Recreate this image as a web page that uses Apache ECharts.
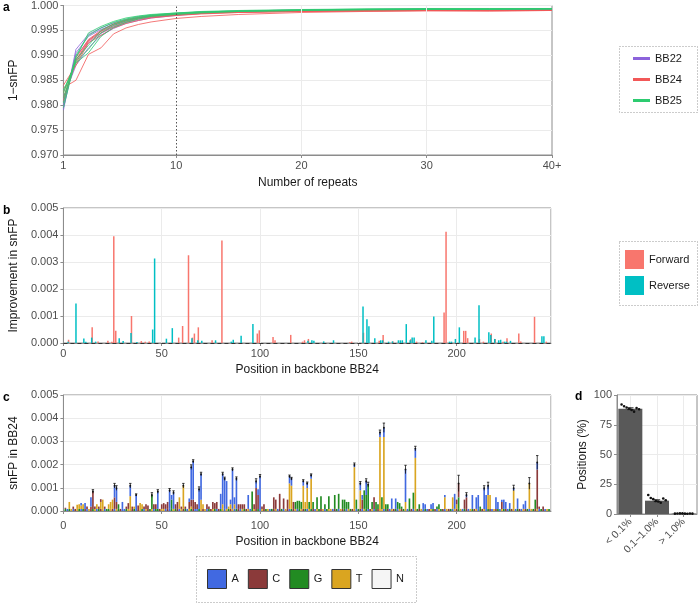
<!DOCTYPE html>
<html><head><meta charset="utf-8">
<script src="https://cdn.jsdelivr.net/npm/echarts@6/dist/echarts.min.js"></script>
<style>html,body{margin:0;padding:0;background:#fff}#main{width:698px;height:603px}</style>
</head><body><div id="main"></div>
<script>
const FONT = '"Liberation Sans", Arial, Helvetica, sans-serif';

// ---------- Panel a: 1-snFP vs number of repeats ----------
const repeatsX = [1,2,3,4,5,6,7,8,10,12,15,20,25,30,35,40];
const repeatTicks = [1,10,20,30,40];
const backbones = ['BB22','BB24','BB25'];
const bb22Runs = [
  [0.9790,0.9912,0.9942,0.9955,0.9965,0.9972,0.9977,0.9980,0.9984,0.9987,0.9989,0.9991,0.9992,0.9993,0.9991,0.9993],
  [0.9795,0.9905,0.9938,0.9952,0.9962,0.9970,0.9975,0.9979,0.9983,0.9986,0.9988,0.9990,0.9991,0.9992,0.9990,0.9992],
  [0.9800,0.9898,0.9930,0.9948,0.9960,0.9968,0.9974,0.9978,0.9982,0.9985,0.9988,0.9990,0.9991,0.9992,0.9991,0.9993],
  [0.9808,0.9890,0.9925,0.9944,0.9957,0.9966,0.9972,0.9976,0.9981,0.9985,0.9987,0.9989,0.9991,0.9992,0.9990,0.9992],
  [0.9815,0.9880,0.9915,0.9940,0.9954,0.9964,0.9970,0.9975,0.9980,0.9984,0.9987,0.9989,0.9990,0.9991,0.9991,0.9992]
];
const bb24Runs = [
  [0.9835,0.9850,0.9902,0.9915,0.9943,0.9955,0.9962,0.9967,0.9974,0.9978,0.9982,0.9986,0.9988,0.9989,0.9989,0.9990],
  [0.9840,0.9880,0.9925,0.9940,0.9955,0.9964,0.9970,0.9975,0.9980,0.9983,0.9986,0.9988,0.9989,0.9990,0.9990,0.9990],
  [0.9825,0.9890,0.9930,0.9948,0.9962,0.9970,0.9975,0.9978,0.9982,0.9985,0.9987,0.9989,0.9990,0.9990,0.9990,0.9991],
  [0.9815,0.9885,0.9928,0.9945,0.9958,0.9967,0.9973,0.9977,0.9981,0.9984,0.9986,0.9988,0.9989,0.9990,0.9989,0.9990],
  [0.9808,0.9895,0.9932,0.9950,0.9963,0.9971,0.9976,0.9979,0.9983,0.9986,0.9988,0.9989,0.9990,0.9991,0.9990,0.9991]
];
const bb25Runs = [
  [0.9795,0.9895,0.9945,0.9958,0.9968,0.9975,0.9979,0.9982,0.9985,0.9988,0.9990,0.9992,0.9993,0.9994,0.9994,0.9994],
  [0.9805,0.9900,0.9940,0.9955,0.9966,0.9973,0.9978,0.9981,0.9985,0.9987,0.9989,0.9991,0.9993,0.9993,0.9993,0.9994],
  [0.9815,0.9892,0.9920,0.9950,0.9963,0.9971,0.9976,0.9980,0.9984,0.9987,0.9989,0.9991,0.9992,0.9993,0.9993,0.9993],
  [0.9825,0.9888,0.9912,0.9945,0.9960,0.9969,0.9975,0.9979,0.9983,0.9986,0.9988,0.9990,0.9992,0.9992,0.9993,0.9993],
  [0.9830,0.9885,0.9905,0.9938,0.9956,0.9966,0.9973,0.9978,0.9982,0.9985,0.9988,0.9990,0.9991,0.9992,0.9992,0.9993]
];

// ---------- Panel b: improvement in snFP, [position, value] ----------
const forwardImprovement = [[3,0.00012],[15,0.00058],[18,0.00006],[23,0.00008],[25,0.00005],[26,0.00395],[27,0.00045],[35,0.001],[40,0.00007],[42,0.00005],[44,0.00006],[59,0.0002],[61,0.00063],[64,0.00325],[66,0.0002],[67,0.00035],[69,0.00058],[76,0.0001],[81,0.0038],[99,0.00035],[100,0.00047],[107,0.00022],[108,0.0001],[116,0.0003],[122,0.00005],[123,0.0001],[125,0.00015],[146,0.00003],[147,0.00005],[153,0.00038],[161,0.00008],[163,0.0003],[168,0.00006],[177,0.00014],[180,0.00005],[183,0.00003],[194,0.00113],[195,0.00412],[204,0.00045],[205,0.00045],[206,0.00018],[212,0.00015],[214,0.00005],[218,0.00035],[220,0.00015],[224,0.00005],[226,0.00018],[232,0.00035],[233,0.00006],[240,0.00097],[246,0.00005]];
const reverseImprovement = [[2,0.00005],[6,0.00146],[10,0.00017],[11,0.00005],[14,0.0002],[16,0.00005],[28,0.00018],[30,0.00007],[34,0.00037],[37,0.00004],[45,0.0005],[46,0.00313],[52,0.00016],[55,0.00055],[65,0.00018],[68,0.0001],[70,0.00008],[77,0.0001],[85,0.00005],[86,0.00012],[90,0.00027],[96,0.0007],[124,0.00008],[126,0.0001],[127,0.00008],[132,0.00006],[137,0.0001],[152,0.00135],[154,0.00088],[155,0.00062],[158,0.00018],[161,0.0001],[162,0.0001],[165,0.00005],[167,0.00006],[170,0.0001],[171,0.0001],[172,0.0001],[174,0.0007],[176,0.0001],[177,0.0002],[178,0.0002],[184,0.0001],[187,0.00008],[188,0.00098],[196,0.00005],[197,0.00005],[199,0.00015],[201,0.00058],[209,0.0002],[211,0.0014],[216,0.0004],[217,0.0003],[219,0.00015],[221,0.0001],[222,0.00012],[224,0.00005],[225,0.00005],[227,0.00008],[243,0.00025],[244,0.00025]];
const improvementThreshold = 0.001;

// ---------- Panel c: snFP in BB24 by nucleotide, [position, value] ----------
const nPositions = 247;
const nucleotides = ['A','C','G','T','N'];
const snfpA = [[9,0.0001],[11,0.00025],[14,0.0004],[26,0.0005],[27,0.0006],[30,0.0003],[34,0.00045],[37,0.0006],[48,0.00075],[54,0.0008],[55,0.0002],[56,0.0007],[64,0.00015],[65,0.0014],[66,0.00165],[69,0.00085],[70,0.0011],[80,0.00065],[81,0.0013],[82,0.0013],[83,0.0012],[85,0.0002],[86,0.0017],[87,0.0003],[88,0.0013],[94,0.0006],[98,0.0003],[99,0.00025],[100,0.0014],[115,0.0003],[116,0.0003],[122,0.0002],[124,0.0002],[126,0.00015],[148,0.0001],[151,0.0003],[152,0.0002],[154,0.0006],[161,0.0002],[163,0.0004],[167,0.00045],[169,0.00045],[174,0.0014],[179,0.0004],[183,0.00025],[184,0.0002],[187,0.0002],[188,0.00025],[194,0.0001],[199,0.00065],[205,0.0001],[208,0.0006],[210,0.0005],[211,0.0006],[214,0.0009],[215,0.0006],[216,0.0004],[220,0.0005],[221,0.0003],[223,0.0001],[224,0.0004],[225,0.0003],[227,0.00025],[229,0.0001],[231,0.00045],[234,0.0002],[235,0.00035],[241,0.0003]];
const snfpC = [[1,0.00005],[5,0.0001],[12,0.0001],[14,0.0001],[15,0.00075],[16,0.0001],[18,0.0001],[19,0.00012],[21,0.0001],[26,0.0005],[27,0.0003],[32,0.0001],[33,0.00025],[35,0.0001],[38,0.00015],[41,0.0001],[42,0.0002],[43,0.00015],[46,0.0002],[47,0.0002],[50,0.0002],[51,0.00025],[52,0.0002],[53,0.0003],[57,0.0002],[58,0.0003],[60,0.0001],[62,0.0001],[64,0.0003],[65,0.0003],[66,0.0004],[67,0.0003],[68,0.0002],[73,0.0002],[74,0.0001],[76,0.0003],[77,0.00025],[78,0.0003],[89,0.0002],[90,0.0002],[91,0.0002],[92,0.0002],[97,0.0002],[98,0.0009],[99,0.0006],[101,0.0001],[102,0.0002],[107,0.0005],[108,0.0004],[110,0.00065],[112,0.00045],[114,0.0004],[117,0.0003],[152,0.0004],[158,0.0005],[200,0.0002],[201,0.0006],[204,0.0004],[205,0.0005],[223,0.0003],[241,0.0017],[242,0.0001],[244,0.0001]];
const snfpG = [[28,0.0002],[45,0.0006],[55,0.0004],[96,0.00075],[118,0.0003],[119,0.00035],[120,0.00035],[121,0.0003],[125,0.0003],[127,0.0003],[129,0.0005],[131,0.00055],[133,0.0002],[135,0.00055],[138,0.0006],[140,0.00065],[142,0.0004],[143,0.0004],[144,0.0003],[145,0.0003],[149,0.0004],[153,0.0008],[154,0.0006],[155,0.00105],[157,0.0003],[159,0.0003],[160,0.0002],[162,0.0005],[164,0.0002],[165,0.0002],[170,0.0003],[171,0.00025],[172,0.0001],[176,0.00045],[178,0.0007],[181,0.0002],[190,0.0001],[191,0.0002],[201,0.0005],[212,0.0001],[240,0.0004]];
const snfpT = [[3,0.0003],[7,0.00018],[8,0.0002],[9,0.00015],[10,0.0002],[17,0.0002],[19,0.0003],[20,0.0004],[23,0.0002],[24,0.0003],[25,0.0004],[34,0.00055],[36,0.0001],[39,0.00025],[40,0.0002],[59,0.0005],[61,0.001],[65,0.0001],[70,0.0004],[71,0.0002],[81,0.0002],[84,0.0001],[85,0.0002],[87,0.0002],[115,0.0011],[116,0.001],[122,0.001],[123,0.0003],[124,0.0009],[126,0.0013],[148,0.0018],[151,0.0008],[161,0.0031],[163,0.0031],[174,0.0003],[179,0.0022],[194,0.0005],[198,0.0005],[200,0.0002],[216,0.0006],[217,0.0006],[229,0.0008],[237,0.0011]];
const snfpSD = [[15,0.00008],[26,0.0001],[27,0.0001],[34,0.0001],[37,0.00005],[45,0.0001],[48,0.00008],[54,0.00008],[56,0.00008],[61,0.0001],[65,0.0001],[66,0.00007],[69,0.0001],[70,0.00008],[81,0.00008],[82,0.00007],[86,0.00007],[88,0.00008],[98,0.0001],[100,0.00008],[115,0.00006],[116,0.00006],[122,0.00006],[124,0.00006],[126,0.00006],[148,0.00008],[151,0.00008],[154,0.0001],[155,0.0001],[161,0.0001],[163,0.0002],[174,0.00018],[179,0.0001],[201,0.00035],[205,0.0001],[214,0.0001],[216,0.00015],[229,0.00012],[237,0.00025],[241,0.0003]];
const refSeq = 'GAGTACTGAG'+'CATCGTAGCT'+'AGGTCATGCA'+'AGTTCGACTG'+'ATCGTAGGCT'+'TACAGTGCAT'+'CGATGCAAGT'+'CTAGCTGACG'+'TATGCTAGCA'+'TGCTAGTCGA'+'TCGTAGCTAC'+'GATCAGCTAG'+'TCGATGCATG'+'CTAGTTACGA'+'TCGATGCTAG'+'CATGACTAGC'+'TTAGCATCGA'+'TCGTAGCATG'+'CTAGACTGCA'+'TGCATCGATC'+'GTAGCATGCT'+'AGCTAGCATC'+'GATGCAGCTA'+'GCATCGATGC'+'TAGCATG';
const refBandValue = 0.00009;

// ---------- Panel d: positions (%) by snFP class ----------
const dCats = ['< 0.1%', '0.1\u20131.0%', '> 1.0%'];
const dMeans = [88.5, 11.2, 0.35];
const dSE = [0.8, 0.8, 0.05];
const dReps = [
  [92, 90.5, 89.5, 88.5, 87.5, 86, 89, 88],
  [16, 13.5, 12.5, 11, 10.5, 9.5, 13, 11.5],
  [0.3, 0.4, 0.5, 0.5, 0.3, 0.2, 0.4, 0.3]
];

// ---------- styling ----------
const lineColors = {BB22:'#8C63DB', BB24:'#F25858', BB25:'#2DCB70'};
const nucColors = {A:'#4169E1', C:'#8B3A3A', G:'#228B22', T:'#DAA520', N:'#F5F5F5'};
const GRID_COL = '#ebebeb', AX_COL = '#8c8c8c', LAB_COL = '#4d4d4d';
const labelBase = {color:LAB_COL, fontSize:11, fontFamily:FONT};
const nameBase = {color:'#1a1a1a', fontSize:12, fontFamily:FONT};

function valueAxis(extra){
  return Object.assign({
    type:'value', axisLine:{show:true, lineStyle:{color:AX_COL}},
    axisTick:{show:true, length:3, lineStyle:{color:AX_COL}},
    splitLine:{show:true, lineStyle:{color:GRID_COL}},
    nameLocation:'middle', nameTextStyle:nameBase
  }, extra);
}

const posList = Array.from({length:nPositions}, (_, i) => i + 1);
function dense(pairs){ const m = new Map(pairs); return posList.map(p => m.get(p) || 0); }
// stacked segments (bottom to top): reference band, T, G, C, A
const stackOrder = ['T','G','C','A'];
const nucValues = {A:dense(snfpA), C:dense(snfpC), G:dense(snfpG), T:dense(snfpT)};
const running = posList.map(() => refBandValue);
const segments = {};
stackOrder.forEach(n => {
  segments[n] = [];
  posList.forEach((p, i) => {
    const v = nucValues[n][i];
    if (v > 0) { segments[n].push([p, running[i], running[i] + v]); running[i] += v; }
  });
});
const totals = running.slice();

function segRender(params, api){
  const p = api.value(0), b = api.value(1), t = api.value(2);
  const a = api.coord([p - 0.42, t]), c = api.coord([p + 0.42, b]);
  return {type:'rect', shape:{x:a[0], y:a[1], width:c[0]-a[0], height:c[1]-a[1]},
    style:{fill:api.visual('color')}};
}

const series = [];
// panel a background vertical lines
series.push({type:'line', xAxisIndex:0, yAxisIndex:0, data:[], z:1, silent:true,
  markLine:{silent:true, symbol:['none','none'], label:{show:false}, animation:false,
    data:[
      {xAxis:20, lineStyle:{color:GRID_COL, width:1, type:'solid'}},
      {xAxis:30, lineStyle:{color:GRID_COL, width:1, type:'solid'}},
      {xAxis:10, lineStyle:{color:'#555', width:1, type:[1.5,2]}}
    ]}});
[['BB22', bb22Runs], ['BB24', bb24Runs], ['BB25', bb25Runs]].forEach(([name, runs]) => {
  runs.forEach(r => series.push({
    type:'line', name, xAxisIndex:0, yAxisIndex:0, z:3, silent:true,
    data: repeatsX.map((x, i) => [x, r[i]]), symbol:'none',
    lineStyle:{width:0.9, color:lineColors[name], opacity:0.9},
    itemStyle:{color:lineColors[name]}
  }));
});

// panel b
series.push({type:'bar', name:'Forward', xAxisIndex:1, yAxisIndex:1, data:forwardImprovement,
  barWidth:1.5, barGap:'0%', itemStyle:{color:'#F8766D'}, silent:true,
  markLine:{silent:true, symbol:['none','none'], label:{show:false}, animation:false,
    data:[{yAxis:improvementThreshold, lineStyle:{color:'#333', width:1, type:[4,3]}}]}});
series.push({type:'bar', name:'Reverse', xAxisIndex:1, yAxisIndex:1, data:reverseImprovement,
  barWidth:1.5, barGap:'0%', itemStyle:{color:'#00BFC4'}, silent:true});

// panel c
series.push({type:'custom', name:'ref', xAxisIndex:2, yAxisIndex:2, silent:true, z:2,
  data: posList.map(p => ({value:[p, 0, refBandValue], itemStyle:{color:nucColors[refSeq.charAt(p-1)] || '#ccc'}})),
  renderItem: segRender});
stackOrder.forEach(n => {
  series.push({type:'custom', name:n, xAxisIndex:2, yAxisIndex:2, silent:true, z:2,
    data:segments[n], itemStyle:{color:nucColors[n]}, renderItem: segRender});
});
series.push({type:'custom', name:'N', xAxisIndex:2, yAxisIndex:2, data:[], itemStyle:{color:nucColors.N}, renderItem: segRender});
series.push({type:'custom', xAxisIndex:2, yAxisIndex:2, z:5, silent:true,
  data: snfpSD.map(([p, sd]) => [p, totals[p-1], sd]),
  renderItem: (params, api) => {
    const x = api.value(0), t = api.value(1), e = api.value(2);
    const top = api.coord([x, t + e]), bot = api.coord([x, Math.max(0, t - e)]);
    return {type:'group', children:[
      {type:'line', shape:{x1:top[0], y1:top[1], x2:bot[0], y2:bot[1]}, style:{stroke:'#111', lineWidth:0.8}},
      {type:'line', shape:{x1:top[0]-1.2, y1:top[1], x2:top[0]+1.2, y2:top[1]}, style:{stroke:'#111', lineWidth:0.8}},
      {type:'circle', shape:{cx:top[0], cy:api.coord([x, t])[1], r:0.9}, style:{fill:'#111'}}
    ]};
  }});

// panel d
series.push({type:'bar', xAxisIndex:3, yAxisIndex:3, data:dMeans, barWidth:'90%', silent:true,
  itemStyle:{color:'#595959'},
  markLine:{silent:true, symbol:['none','none'], label:{show:false}, animation:false, z:0,
    data: dCats.map(c => ({xAxis:c, lineStyle:{color:GRID_COL, width:1, type:'solid'}}))}});
series.push({type:'custom', xAxisIndex:3, yAxisIndex:3, z:5, silent:true,
  data: dMeans.map((m, i) => [i, m, dSE[i]]),
  renderItem: (params, api) => {
    const i = api.value(0), m = api.value(1), e = api.value(2);
    const top = api.coord([i, m + e]), bot = api.coord([i, m - e]);
    const hw = api.size([1, 0])[0] * 0.12;
    return {type:'group', children:[
      {type:'line', shape:{x1:top[0], y1:top[1], x2:bot[0], y2:bot[1]}, style:{stroke:'#111', lineWidth:0.8}},
      {type:'line', shape:{x1:top[0]-hw, y1:top[1], x2:top[0]+hw, y2:top[1]}, style:{stroke:'#111', lineWidth:0.8}},
      {type:'line', shape:{x1:bot[0]-hw, y1:bot[1], x2:bot[0]+hw, y2:bot[1]}, style:{stroke:'#111', lineWidth:0.8}}
    ]};
  }});
const dDots = [];
dReps.forEach((reps, i) => reps.forEach((v, j) => dDots.push([i, v, j, reps.length])));
series.push({type:'custom', xAxisIndex:3, yAxisIndex:3, z:6, silent:true, data:dDots,
  renderItem: (params, api) => {
    const i = api.value(0), v = api.value(1), j = api.value(2), n = api.value(3);
    const c = api.coord([i, v]);
    const bw = api.size([1, 0])[0];
    const off = (j - (n - 1) / 2) / n * bw * 0.75;
    return {type:'circle', shape:{cx:c[0] + off, cy:c[1], r:1.3}, style:{fill:'#111'}};
  }});

const option = {
  animation:false,
  backgroundColor:'#fff',
  textStyle:{fontFamily:FONT},
  grid:[
    {left:59, top:5, width:493, height:150, show:true, borderColor:AX_COL, borderWidth:1, backgroundColor:'transparent'},
    {left:58, top:208, width:493, height:135, show:true, borderColor:AX_COL, borderWidth:1, backgroundColor:'transparent'},
    {left:58, top:395, width:493, height:116, show:true, borderColor:AX_COL, borderWidth:1, backgroundColor:'transparent'},
    {left:617, top:395, width:80, height:119, show:true, borderColor:AX_COL, borderWidth:1, backgroundColor:'transparent'}
  ],
  xAxis:[
    valueAxis({gridIndex:0, min:1, max:40, name:'Number of repeats', nameGap:22,
      splitLine:{show:false},
      axisTick:{show:true, length:3, lineStyle:{color:AX_COL}, customValues:repeatTicks},
      axisLabel:Object.assign({}, labelBase, {margin:5, customValues:repeatTicks,
        formatter: v => v === repeatTicks[repeatTicks.length-1] ? v + '+' : String(v)})}),
    valueAxis({gridIndex:1, min:0, max:248, interval:50, name:'Position in backbone BB24', nameGap:21,
      axisLabel:Object.assign({}, labelBase, {margin:5, showMaxLabel:false})}),
    valueAxis({gridIndex:2, min:0, max:248, interval:50, name:'Position in backbone BB24', nameGap:25,
      axisLabel:Object.assign({}, labelBase, {margin:9, showMaxLabel:false})}),
    {type:'category', gridIndex:3, data:dCats,
      axisLine:{show:true, lineStyle:{color:AX_COL}},
      axisTick:{show:true, length:3, alignWithLabel:true, lineStyle:{color:AX_COL}},
      splitLine:{show:false},
      axisLabel:Object.assign({}, labelBase, {rotate:45, interval:0, margin:6, fontSize:10.5})}
  ],
  yAxis:[
    valueAxis({gridIndex:0, min:0.970, max:1.000, interval:0.005, name:'1\u2212snFP', nameGap:39,
      axisLabel:Object.assign({}, labelBase, {margin:5, formatter: v => v.toFixed(3)})}),
    valueAxis({gridIndex:1, min:0, max:0.005, interval:0.001, name:'Improvement in snFP', nameGap:38,
      axisLabel:Object.assign({}, labelBase, {margin:5, formatter: v => v.toFixed(3)})}),
    valueAxis({gridIndex:2, min:0, max:0.005, interval:0.001, name:'snFP in BB24', nameGap:38,
      axisLabel:Object.assign({}, labelBase, {margin:5, formatter: v => v.toFixed(3)})}),
    valueAxis({gridIndex:3, min:0, max:100, interval:25, name:'Positions (%)', nameGap:28,
      axisLabel:Object.assign({}, labelBase, {margin:5})})
  ],
  legend:[
    {data:backbones, orient:'vertical', left:633, top:53, padding:0, icon:'rect', itemWidth:17, itemHeight:3,
      itemGap:10, selectedMode:false, textStyle:{fontSize:11, color:'#1a1a1a', fontFamily:FONT}},
    {data:['Forward','Reverse'], orient:'vertical', left:625, top:250, padding:0, icon:'rect', itemWidth:19, itemHeight:19,
      itemGap:7, selectedMode:false, textStyle:{fontSize:11, color:'#1a1a1a', fontFamily:FONT}},
    {data:nucleotides, orient:'horizontal', left:207, top:569, padding:0, icon:'rect', itemWidth:19, itemHeight:19,
      itemGap:9, selectedMode:false, itemStyle:{borderColor:'#333', borderWidth:1},
      textStyle:{fontSize:11, color:'#1a1a1a', fontFamily:FONT}}
  ],
  graphic:[
    {type:'rect', shape:{x:619.5, y:46.5, width:78, height:66}, style:{fill:'none', stroke:'#999', lineWidth:1, lineDash:[1,2]}, silent:true},
    {type:'rect', shape:{x:619.5, y:241.5, width:78, height:64}, style:{fill:'none', stroke:'#999', lineWidth:1, lineDash:[1,2]}, silent:true},
    {type:'rect', shape:{x:196.5, y:556.5, width:220, height:46}, style:{fill:'none', stroke:'#999', lineWidth:1, lineDash:[1,2]}, silent:true},
    {type:'text', left:3, top:2, style:{text:'a', font:'bold 12px ' + FONT, fill:'#000'}},
    {type:'text', left:3, top:205, style:{text:'b', font:'bold 12px ' + FONT, fill:'#000'}},
    {type:'text', left:3, top:392, style:{text:'c', font:'bold 12px ' + FONT, fill:'#000'}},
    {type:'text', left:575, top:391, style:{text:'d', font:'bold 12px ' + FONT, fill:'#000'}}
  ],
  series
};
const chart = echarts.init(document.getElementById('main'));
chart.setOption(option);
</script>
</body></html>
